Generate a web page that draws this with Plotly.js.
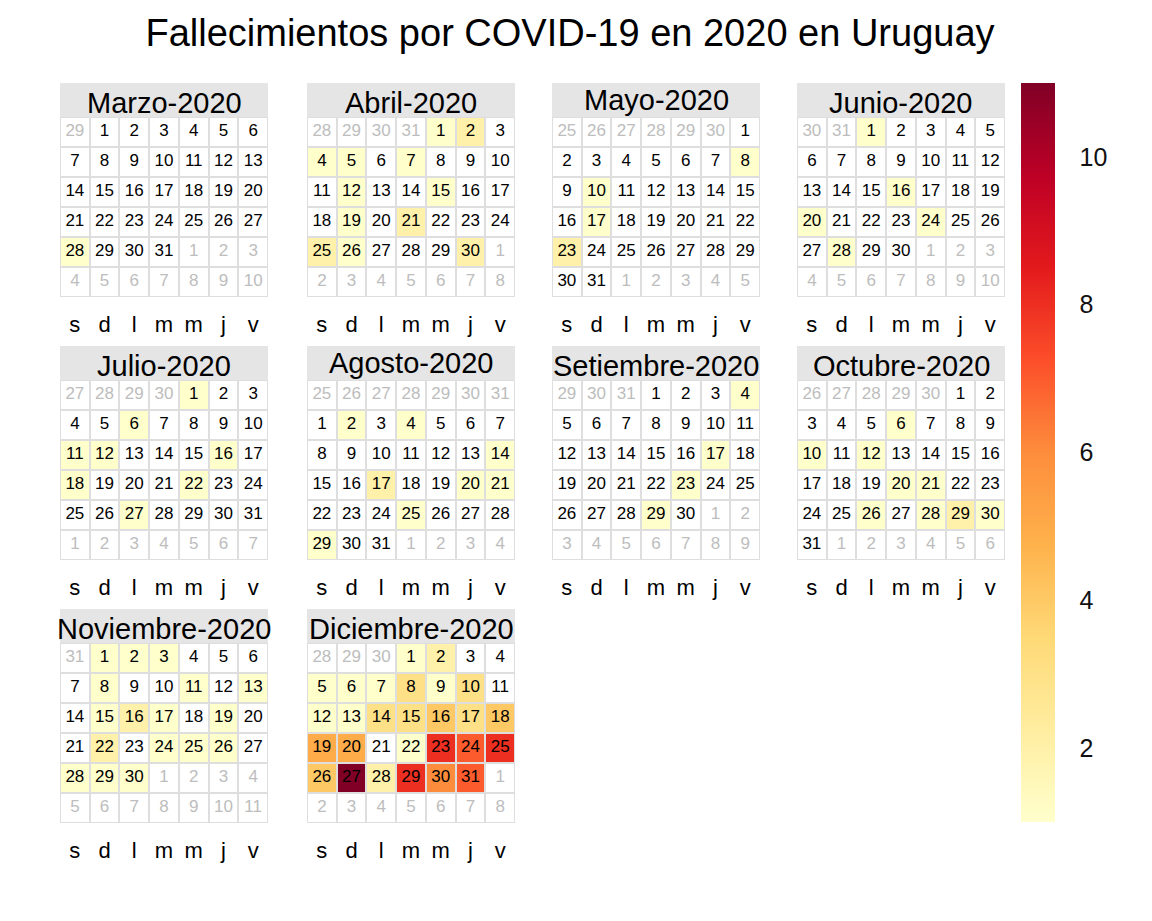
<!DOCTYPE html>
<html>
<head>
<meta charset="utf-8">
<script src="https://cdn.plot.ly/plotly-3.0.1.min.js"></script>
<style>html,body{margin:0;padding:0;background:#fff;}#chart{width:1152px;height:921px;}</style>
</head>
<body>
<div id="chart"></div>
<script>
// ---- Data ----
const tituloGrafico = 'Fallecimientos por COVID-19 en 2020 en Uruguay';
const diasSemana = ['s', 'd', 'l', 'm', 'm', 'j', 'v'];
const nombresMeses = ['Marzo-2020', 'Abril-2020', 'Mayo-2020', 'Junio-2020', 'Julio-2020',
  'Agosto-2020', 'Setiembre-2020', 'Octubre-2020', 'Noviembre-2020', 'Diciembre-2020'];
const numeroMes = [2, 3, 4, 5, 6, 7, 8, 9, 10, 11]; // 0-based month index, year 2020
const colorbarTicks = [2, 4, 6, 8, 10];

// daily deaths, day 1 .. last day of month
const marzo = [0,0,0,0,0,0,0,0,0,0, 0,0,0,0,0,0,0,0,0,0, 0,0,0,0,0,0,0,1,0,0, 0];
const abril = [1,2,0,1,1,0,1,0,0,0, 0,1,0,0,1,0,0,0,1,0, 2,0,0,0,2,1,0,0,0,2];
const mayo = [0,0,0,0,0,0,0,1,0,1, 0,0,0,0,0,0,1,0,0,0, 0,0,2,0,0,0,0,0,0,0, 0];
const junio = [1,0,0,0,0,0,0,0,0,0, 0,0,0,0,0,1,0,0,0,1, 0,0,0,1,0,0,0,1,0,0];
const julio = [1,0,0,0,0,1,0,0,0,0, 1,1,0,0,0,1,0,1,0,0, 0,1,0,0,0,0,1,0,0,0, 0];
const agosto = [0,1,0,1,0,0,0,0,0,0, 0,0,0,1,0,0,2,0,0,1, 1,0,0,0,1,0,0,0,1,0, 0];
const setiembre = [0,0,0,1,0,0,0,0,0,0, 0,0,0,0,0,0,1,0,0,0, 0,0,1,0,0,0,0,0,1,0];
const octubre = [0,0,0,0,0,1,0,0,0,1, 0,1,0,0,0,0,0,0,0,1, 1,0,0,0,0,1,0,1,2,1, 0];
const noviembre = [1,1,1,0,0,0,0,1,0,0, 1,0,1,0,1,2,1,0,1,0, 0,2,0,1,1,1,0,1,1,1];
const diciembre = [1,2,0,0,1,1,1,3,1,3, 0,1,1,3,3,4,3,4,5,5, 0,1,8,7,8,4,11,2,8,6, 7];
const muertesPorMes = [marzo, abril, mayo, junio, julio, agosto, setiembre, octubre, noviembre, diciembre];

// ---- Layout constants (pixels) ----
const W = 1152, H = 921;
const panelLeft = [60, 307, 552, 797];
const panelTop = [83, 346, 609];
const panelW = 208, headerH = 34, gridH = 180;
const FONT = 'Liberation Sans, Arial, sans-serif';
const colorscale = [[0,'#FFFFCC'],[0.125,'#FFEDA0'],[0.25,'#FED976'],[0.375,'#FEB24C'],
  [0.5,'#FD8D3C'],[0.625,'#FC4E2A'],[0.75,'#E31A1C'],[0.875,'#BD0026'],[1,'#800026']];

const traces = [];
const layout = {
  width: W, height: H,
  margin: {l: 0, r: 0, t: 0, b: 0},
  paper_bgcolor: '#ffffff',
  plot_bgcolor: '#DEDEDE',
  showlegend: false,
  font: {family: FONT, color: '#000'},
  title: {text: tituloGrafico, x: 570 / W, xanchor: 'center', xref: 'container',
          y: 1 - 33 / H, yanchor: 'middle', yref: 'container',
          font: {size: 38, family: FONT, color: '#000'}},
  coloraxis: {
    cmin: 1, cmax: 11, colorscale: colorscale,
    colorbar: {
      x: 1021 / W, xanchor: 'left', xpad: 0, ypad: 0,
      y: 1 - 83 / H, yanchor: 'top',
      len: (822 - 83) / H, lenmode: 'fraction',
      thickness: 34, thicknessmode: 'pixels',
      outlinewidth: 0,
      tickvals: colorbarTicks,
      ticks: 'outside', ticklen: 20, tickcolor: 'rgba(0,0,0,0)',
      tickfont: {size: 25, family: FONT, color: '#111'}
    }
  },
  shapes: [],
  annotations: []
};

const DAY = 86400000;
nombresMeses.forEach(function (nombre, i) {
  const r = Math.floor(i / 4), c = i % 4;
  const x0 = panelLeft[c], x1 = x0 + panelW;
  const hTop = panelTop[r], gTop = hTop + headerH, gBot = gTop + gridH;
  const ax = i === 0 ? '' : String(i + 1);

  layout['xaxis' + ax] = {domain: [x0 / W, x1 / W], range: [-0.5, 6.5], fixedrange: true,
    anchor: 'y' + ax, side: 'bottom', showgrid: false, zeroline: false, showline: false,
    ticks: '', tickmode: 'array', tickvals: [0, 1, 2, 3, 4, 5, 6], ticktext: diasSemana,
    ticklabelstandoff: 12, tickfont: {size: 22, family: FONT, color: '#000'}};
  layout['yaxis' + ax] = {domain: [1 - gBot / H, 1 - gTop / H], range: [5.5, -0.5], visible: false,
    fixedrange: true, anchor: 'x' + ax};

  // build calendar grid 6x7 (week starts Saturday; a full previous week if month starts on Saturday)
  const m = numeroMes[i];
  const first = Date.UTC(2020, m, 1);
  let offset = (new Date(first).getUTCDay() + 1) % 7;
  if (offset === 0) offset = 7;
  const muertes = muertesPorMes[i];
  const zBg = [], zData = [];
  const tx = [], ty = [], tt = [], tc = [];
  for (let row = 0; row < 6; row++) {
    zBg.push([1,1,1,1,1,1,1]);
    zData.push([null,null,null,null,null,null,null]);
  }
  for (let k = 0; k < 42; k++) {
    const d = new Date(first + (k - offset) * DAY);
    const row = Math.floor(k / 7), col = k % 7;
    const enMes = d.getUTCMonth() === m;
    if (enMes) {
      const v = muertes[d.getUTCDate() - 1];
      if (v > 0) zData[row][col] = v;
    }
    tx.push(col); ty.push(row); tt.push(String(d.getUTCDate()));
    tc.push(enMes ? '#000000' : '#BDBDBD');
  }

  traces.push({type: 'heatmap', z: zBg, x: [0,1,2,3,4,5,6], y: [0,1,2,3,4,5],
    colorscale: [[0,'#ffffff'],[1,'#ffffff']], showscale: false, xgap: 2, ygap: 2,
    hoverinfo: 'skip', xaxis: 'x' + ax, yaxis: 'y' + ax});
  traces.push({type: 'heatmap', z: zData, x: [0,1,2,3,4,5,6], y: [0,1,2,3,4,5],
    coloraxis: 'coloraxis', xgap: 2, ygap: 2, hoverongaps: false,
    xaxis: 'x' + ax, yaxis: 'y' + ax});
  traces.push({type: 'scatter', mode: 'text', x: tx, y: ty, text: tt,
    textfont: {size: 17, family: FONT, color: tc}, cliponaxis: false,
    hoverinfo: 'skip', xaxis: 'x' + ax, yaxis: 'y' + ax});

  // header strip
  const descender = /[gjpqy]/.test(nombre);
  layout.shapes.push({type: 'rect', xref: 'paper', yref: 'paper',
    x0: x0 / W, x1: x1 / W, y0: 1 - gTop / H, y1: 1 - hTop / H,
    fillcolor: '#E5E5E5', line: {width: 0}, layer: 'below'});
  layout.annotations.push({text: nombre, xref: 'paper', yref: 'paper',
    x: (x0 + x1) / 2 / W, y: 1 - (hTop + headerH / 2 + (descender ? 0 : 3)) / H,
    xanchor: 'center', yanchor: 'middle',
    showarrow: false, font: {size: 29, family: FONT, color: '#000'}});
});

Plotly.newPlot('chart', traces, layout, {displayModeBar: false, staticPlot: true});
</script>
</body>
</html>
